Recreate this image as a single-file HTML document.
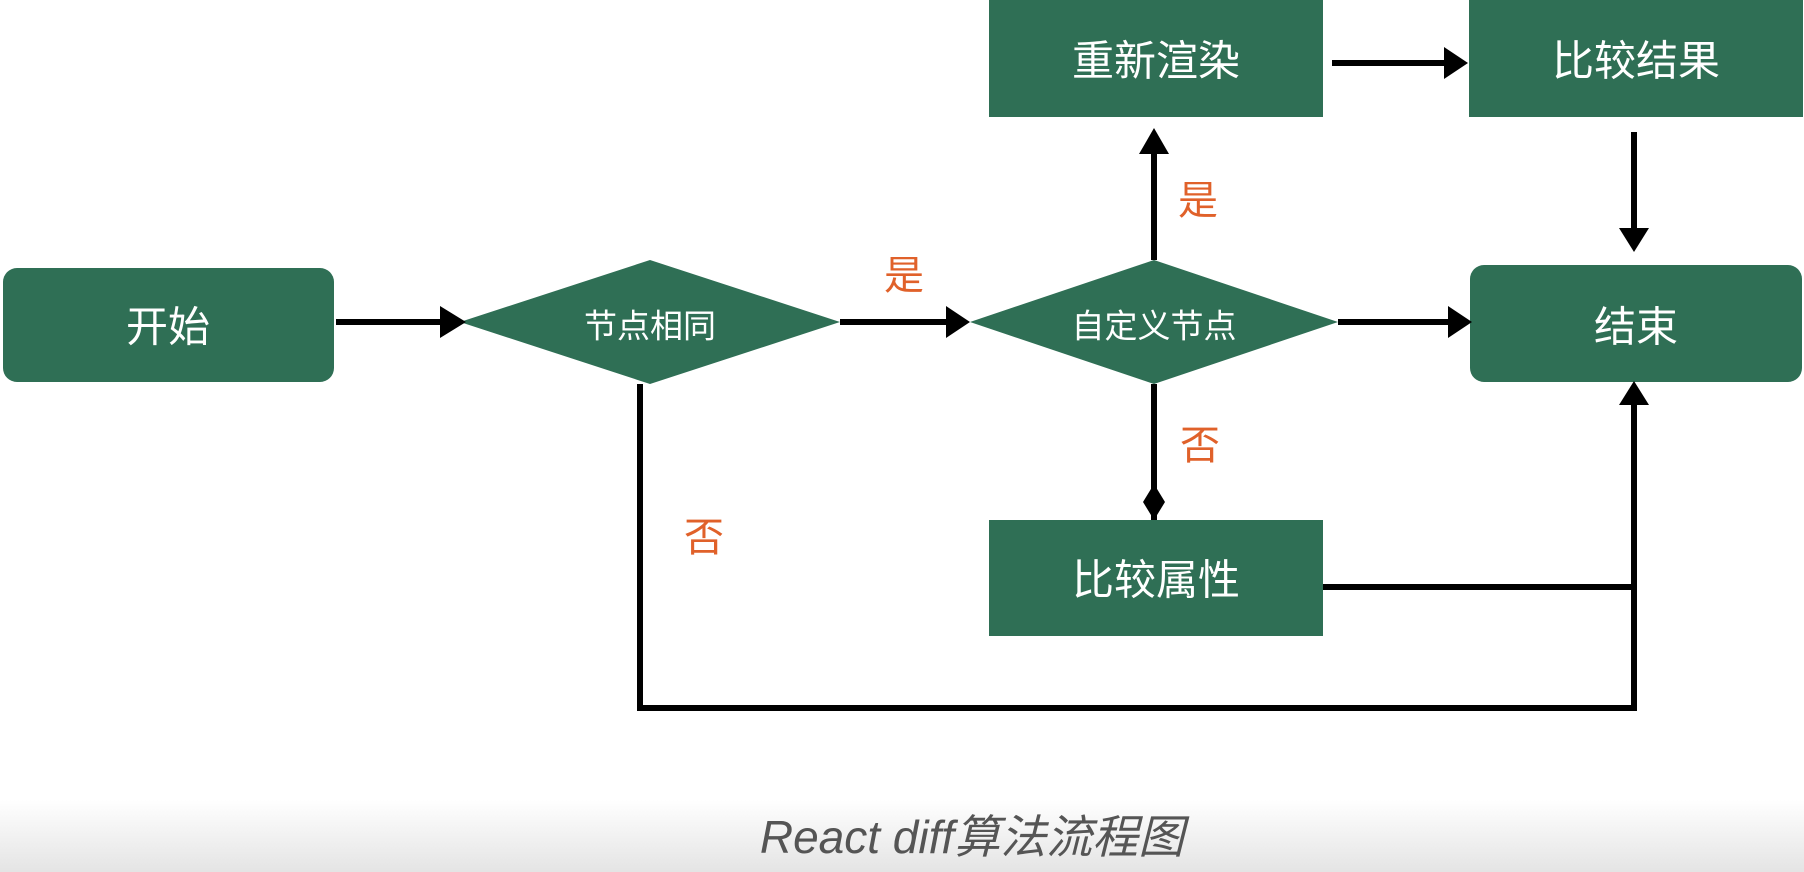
<!DOCTYPE html>
<html><head><meta charset="utf-8"><style>
html,body{margin:0;padding:0;background:#fff;}
body{width:1804px;height:872px;overflow:hidden;position:relative;}
svg{position:absolute;left:0;top:0;}
</style></head><body>
<svg width="1804" height="872" viewBox="0 0 1804 872" xmlns="http://www.w3.org/2000/svg">
<defs>
<linearGradient id="bg" x1="0" y1="0" x2="0" y2="1">
<stop offset="0" stop-color="#ffffff"/><stop offset="1" stop-color="#e4e4e4"/>
</linearGradient>
</defs>
<rect x="0" y="800" width="1804" height="72" fill="url(#bg)"/>
<g fill="#2f6f55">
<rect x="3" y="268" width="331" height="114" rx="14"/>
<polygon points="460,322 650,260 840,322 650,384"/>
<polygon points="970,322 1154,260 1338,322 1154,384"/>
<rect x="989" y="0" width="334" height="117"/>
<rect x="1469" y="0" width="334" height="117"/>
<rect x="1470" y="265" width="332" height="117" rx="14"/>
<rect x="989" y="520" width="334" height="116"/>
</g>
<g stroke="#000" stroke-width="6" fill="none">
<line x1="336" y1="322" x2="445" y2="322"/>
<line x1="840" y1="322" x2="950" y2="322"/>
<line x1="1338" y1="322" x2="1452" y2="322"/>
<line x1="1154" y1="260" x2="1154" y2="150"/>
<line x1="1332" y1="63" x2="1448" y2="63"/>
<line x1="1634" y1="132" x2="1634" y2="232"/>
<line x1="1154" y1="384" x2="1154" y2="520"/>
<polyline points="1323,587 1634,587"/>
<polyline points="640,384 640,708 1634,708 1634,400"/>
</g>
<g fill="#000">
<polygon points="440,306 466,322 440,338"/>
<polygon points="946,306 970,322 946,338"/>
<polygon points="1448,306 1472,322 1448,338"/>
<polygon points="1139,154 1154,128 1169,154"/>
<polygon points="1444,47 1468,63 1444,79"/>
<polygon points="1619,228 1634,252 1649,228"/>
<polygon points="1619,405 1634,381 1649,405"/>
<polygon points="1154,484 1165,502 1154,520 1143,502"/>
</g>
<g font-family="'Liberation Sans','Noto Sans CJK SC',sans-serif" fill="#fff" text-anchor="middle" dominant-baseline="central">
<text x="168" y="327" font-size="42">开始</text>
<text x="650" y="326" font-size="33">节点相同</text>
<text x="1154" y="326" font-size="33">自定义节点</text>
<text x="1156" y="61" font-size="42">重新渲染</text>
<text x="1636" y="61" font-size="42">比较结果</text>
<text x="1636" y="327" font-size="42">结束</text>
<text x="1156" y="580" font-size="42">比较属性</text>
</g>
<g font-family="'Liberation Sans','Noto Sans CJK SC',sans-serif" fill="#e0612a" text-anchor="middle" dominant-baseline="central" font-size="40">
<text x="904" y="276">是</text>
<text x="1198" y="201">是</text>
<text x="1200" y="446">否</text>
<text x="704" y="538">否</text>
</g>
<text x="972" y="837" text-anchor="middle" dominant-baseline="central" font-family="'Liberation Sans','Noto Sans CJK SC',sans-serif" font-size="46" fill="#555" font-style="italic">React diff算法流程图</text>
</svg>
</body></html>
